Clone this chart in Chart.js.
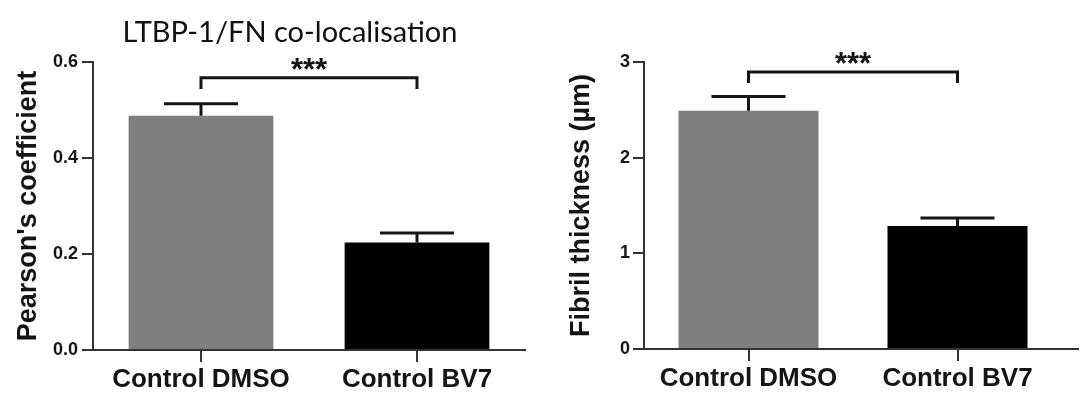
<!DOCTYPE html>
<html>
<head>
<meta charset="utf-8">
<script src="https://cdn.jsdelivr.net/npm/chart.js@4.4.0/dist/chart.umd.min.js"></script>
<style>
body { margin: 0; background: #fff; }
#wrap { position: relative; width: 1081px; height: 405px; }
.box { position: absolute; top: 0; height: 405px; }
</style>
</head>
<body>
<div id="wrap">
  <div class="box" style="left:0;width:540px"><canvas id="pearson"></canvas></div>
  <div class="box" style="left:540px;width:541px"><canvas id="fibril"></canvas></div>
</div>
<script>
const categories = ['Control DMSO', 'Control BV7'];
const pearsonMean = [0.488, 0.224];
const pearsonSem = [0.025, 0.020];
const pearsonTicks = [0, 0.2, 0.4, 0.6];
const fibrilMean = [2.49, 1.285];
const fibrilSem = [0.15, 0.085];
const fibrilTicks = [0, 1, 2, 3];
// significance bracket: [bar level, end of the drops]
const pearsonSig = [0.567, 0.544];
const fibrilSig = [2.895, 2.78];
const barColors = ['#7f7f7f', '#000000'];

const ink = '#151515';
const axisFont = '"Liberation Sans", Arial, sans-serif';

// error bars, significance bracket, stars, panel title
const extras = {
  id: 'extras',
  afterDatasetsDraw(chart, args, opts) {
    const ctx = chart.ctx;
    const x = chart.scales.x, y = chart.scales.y;
    ctx.save();
    ctx.strokeStyle = ink;
    ctx.lineWidth = 3;
    opts.mean.forEach((m, i) => {
      const px = x.getPixelForValue(i);
      const top = y.getPixelForValue(m + opts.sem[i]);
      ctx.beginPath();
      ctx.moveTo(px, y.getPixelForValue(m));
      ctx.lineTo(px, top);
      ctx.moveTo(px - 37, top);
      ctx.lineTo(px + 37, top);
      ctx.stroke();
    });

    const x0 = x.getPixelForValue(0), x1 = x.getPixelForValue(1);
    const yb = y.getPixelForValue(opts.sig[0]);
    const yd = y.getPixelForValue(opts.sig[1]);
    ctx.beginPath();
    ctx.moveTo(x0, yd);
    ctx.lineTo(x0, yb);
    ctx.lineTo(x1, yb);
    ctx.lineTo(x1, yd);
    ctx.stroke();

    // x axis line runs on a bit past the last bar, as in the original
    if (opts.axisTail) {
      ctx.strokeStyle = '#333';
      ctx.lineWidth = 2;
      ctx.beginPath();
      ctx.moveTo(chart.chartArea.right, chart.chartArea.bottom);
      ctx.lineTo(chart.chartArea.right + opts.axisTail, chart.chartArea.bottom);
      ctx.stroke();
    }

    ctx.fillStyle = ink;
    ctx.textAlign = 'center';
    ctx.textBaseline = 'alphabetic';
    ctx.font = 'bold 31px ' + axisFont;
    ctx.fillText('***', (x0 + x1) / 2, yb + 2);

    if (opts.title) {
      ctx.font = '29px Lato, "Open Sans", sans-serif';
      ctx.fillStyle = '#111';
      ctx.fillText(opts.title, 290, 42);
    }
    ctx.restore();
  }
};

function makeChart(id, mean, sem, ticks, sig, yTitle, title, dec, yWidth, xHeight, padRight, titlePad, tickPad, axisTail) {
  return new Chart(document.getElementById(id), {
    type: 'bar',
    data: {
      labels: categories,
      datasets: [{
        data: mean,
        backgroundColor: barColors,
        borderWidth: 0,
        barPercentage: 0.67,
        categoryPercentage: 1
      }]
    },
    options: {
      responsive: true,
      maintainAspectRatio: false,
      animation: false,
      layout: { padding: { top: 62, right: padRight, bottom: 0, left: 0 } },
      plugins: {
        legend: { display: false },
        tooltip: { enabled: false },
        extras: { mean: mean, sem: sem, sig: sig, title: title, axisTail: axisTail }
      },
      scales: {
        x: {
          offset: true,
          afterFit: s => { s.height = xHeight; },
          border: { color: '#333', width: 2 },
          grid: { offset: false, drawOnChartArea: false, drawTicks: true, tickLength: 12, color: '#333', lineWidth: 2 },
          ticks: { color: ink, padding: 2, font: { family: axisFont, size: 26, weight: 'bold' } }
        },
        y: {
          min: ticks[0],
          max: ticks[ticks.length - 1],
          afterBuildTicks: s => { s.ticks = ticks.map(v => ({ value: v })); },
          afterFit: s => { s.width = yWidth; },
          border: { color: '#333', width: 2 },
          grid: { drawOnChartArea: false, drawTicks: true, tickLength: 11, color: '#333', lineWidth: 2 },
          ticks: {
            color: ink, padding: tickPad,
            font: { family: axisFont, size: 18, weight: 'bold' },
            callback: v => Number(v).toFixed(dec)
          },
          title: {
            display: true, text: yTitle, color: ink,
            padding: { top: titlePad, bottom: 0 },
            font: { family: axisFont, size: 27, weight: 'bold' }
          }
        }
      }
    },
    plugins: [extras]
  });
}

makeChart('pearson', pearsonMean, pearsonSem, pearsonTicks, pearsonSig,
  "Pearson's coefficient", 'LTBP-1/FN co-localisation', 1, 93, 55, 15, 12, 4, 0);
makeChart('fibril', fibrilMean, fibrilSem, fibrilTicks, fibrilSig,
  'Fibril thickness (µm)', null, 0, 104, 56, 19, 25, 3, 17);
</script>
</body>
</html>
